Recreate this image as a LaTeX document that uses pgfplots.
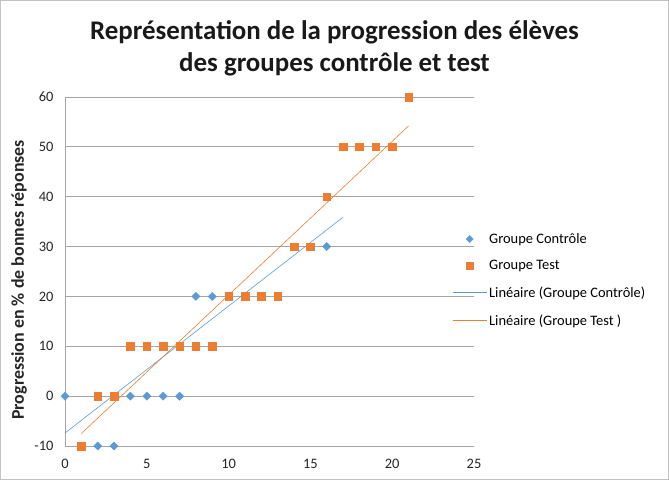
\documentclass[border=0pt]{standalone}
\usepackage{pgfplots}
\pgfplotsset{compat=1.18}
\usepackage{fontspec}
\setmainfont{Carlito}
\definecolor{cblue}{HTML}{5B9BD5}
\definecolor{corange}{HTML}{ED7D31}
\definecolor{cgrid}{HTML}{A6A6A6}
\begin{document}
\begin{tikzpicture}[x=1bp,y=1bp]
\path[use as bounding box] (-65,-34) rectangle (604,446);
\draw[cgrid!70,line width=0.8bp] (-64.5,-33.5) rectangle (603.5,445.5);
\begin{axis}[
  at={(0,0)}, anchor=south west,
  scale only axis, width=409bp, height=349bp,
  xmin=0, xmax=25, ymin=-10, ymax=60,
  xtick={0,5,...,25}, ytick={-10,0,...,60},
  ymajorgrids, grid style={cgrid, line width=0.8bp},
  axis line style={cgrid, line width=0.8bp},
  axis x line=bottom, axis y line=left,
  x axis line style={-}, y axis line style={-},
  major tick length=0pt,
  tick label style={font=\fontsize{14.5}{17}\selectfont, text=black!85},
  xticklabel style={yshift=-10bp},
  yticklabel style={xshift=-8bp},
  /pgf/number format/assume math mode=true,
  ylabel={\textbf{Progression en \% de bonnes réponses}},
  ylabel style={font=\fontsize{18}{21}\selectfont, text=black!85,
    at={(axis description cs:-0.1125,0.476)}, anchor=center},
  clip=false,
  legend style={draw=none, fill=none, at={(0.939,0.476)}, anchor=west,
    font=\fontsize{14.5}{17}\selectfont, row sep=11.6bp},
  legend cell align=left,
]
\addplot[only marks, mark=square*, mark size=2.9bp, mark options={rotate=45, draw=cblue, fill=cblue}, color=cblue,
  legend image code/.code={\draw[mark=square*, mark size=2.5bp, mark options={rotate=45}, draw=cblue, fill=cblue] plot coordinates {(0.6cm,0cm)};}]
  coordinates {(0,0) (2,-10) (3,-10) (4,0) (5,0) (6,0) (7,0) (8,20) (9,20) (16,30)};
\addlegendentry{Groupe Contrôle}
\addplot[only marks, mark=square*, mark size=3.8bp, color=corange,
  legend image code/.code={\draw[mark=square*, mark size=3.3bp, draw=corange, fill=corange] plot coordinates {(0.6cm,0cm)};}]
  coordinates {(1,-10) (2,0) (3,0) (4,10) (5,10) (6,10) (7,10) (8,10) (9,10)
   (10,20) (11,20) (12,20) (13,20) (14,30) (15,30) (16,40) (17,50) (18,50) (19,50) (20,50) (21,60)};
\addlegendentry{Groupe Test}
\addplot[cblue, line width=0.6bp,
  legend image code/.code={\draw[cblue, line width=0.9bp] (0cm,0cm)--(1.2cm,0cm);}]
  coordinates {(0,-7.4) (17,35.9)};
\addlegendentry{Linéaire (Groupe Contrôle)}
\addplot[corange, line width=0.6bp,
  legend image code/.code={\draw[corange, line width=0.9bp] (0cm,0cm)--(1.2cm,0cm);}]
  coordinates {(1,-7.5) (21,54.2)};
\addlegendentry{Linéaire (Groupe Test )}
\end{axis}
\node[font=\bfseries\fontsize{27}{32}\selectfont, align=center, text=black!90] at (269.5,398) {Représentation de la progression des élèves\\des groupes contrôle et test};
\end{tikzpicture}
\end{document}
